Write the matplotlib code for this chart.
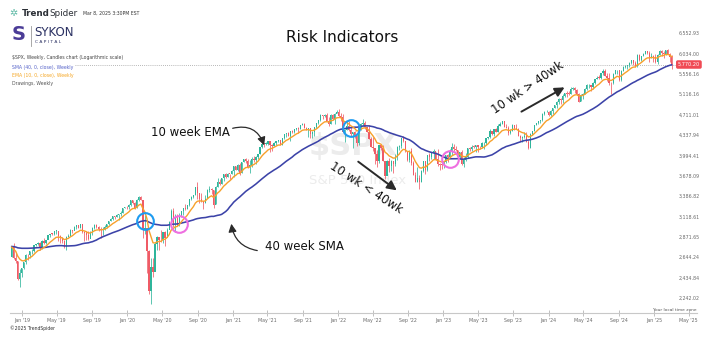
import pandas as pd
import matplotlib
matplotlib.use("Agg")
import matplotlib.pyplot as plt
import matplotlib.dates as mdates
from matplotlib.ticker import NullLocator

# weekly closes before the visible range, only used to warm up the averages (Feb-Nov 2018)
warmup_close = [
    2762.13, 2619.55, 2732.22, 2747.30, 2691.25, 2786.57, 2752.01, 2588.26, 2640.87, 2604.47,
    2656.30, 2670.14, 2669.91, 2663.42, 2727.72, 2712.97, 2721.33, 2734.62, 2779.03, 2779.66,
    2754.88, 2718.37, 2759.82, 2801.31, 2801.83, 2818.82, 2840.35, 2833.28, 2850.13, 2874.69,
    2901.52, 2871.68, 2904.98, 2929.67, 2913.98, 2885.57, 2767.13, 2767.78, 2658.69, 2723.06,
    2781.01, 2736.27, 2632.56,
]

# visible weekly candles, week of 26 Nov 2018 to week of 3 Mar 2025
first_open = 2649.97
week_close = [
    # 2018
    2760.17, 2633.08, 2599.95, 2416.62, 2485.74,
    # 2019
    2531.94, 2596.26, 2670.71, 2664.76, 2706.53, 2707.88, 2775.60, 2792.67, 2803.69, 2743.07,
    2822.48, 2800.71, 2834.40, 2892.74, 2907.41, 2905.03, 2939.88, 2945.64, 2881.40, 2859.53,
    2826.06, 2752.06, 2873.34, 2886.98, 2950.46, 2941.76, 2990.41, 3013.77, 2976.61, 3025.86,
    2932.05, 2918.65, 2888.68, 2847.11, 2926.46, 2978.71, 3007.39, 2992.07, 2961.79, 2952.01,
    2970.27, 2986.20, 3022.55, 3066.91, 3093.08, 3120.46, 3110.29, 3140.98, 3145.91, 3168.80,
    3221.22, 3240.02,
    # 2020
    3234.85, 3265.35, 3329.62, 3295.47, 3225.52, 3327.71, 3380.16, 3337.75, 2954.22, 2972.37,
    2711.02, 2304.92, 2541.47, 2488.65, 2789.82, 2874.56, 2836.74, 2830.71, 2929.80, 2863.70,
    2955.45, 3044.31, 3193.93, 3041.31, 3097.74, 3009.05, 3130.01, 3185.04, 3224.73, 3215.63,
    3271.12, 3351.28, 3372.85, 3397.16, 3508.01, 3426.96, 3340.97, 3319.47, 3298.46, 3348.44,
    3477.13, 3483.81, 3465.39, 3269.96, 3509.44, 3585.15, 3557.54, 3638.35, 3699.12, 3663.46,
    3709.41, 3703.06, 3756.07,
    # 2021
    3824.68, 3768.25, 3841.47, 3714.24, 3886.83, 3934.83, 3906.71, 3811.15, 3841.94, 3943.34,
    3913.10, 3974.54, 4019.87, 4128.80, 4185.47, 4180.17, 4181.17, 4232.60, 4173.85, 4155.86,
    4204.11, 4229.89, 4247.44, 4166.45, 4280.70, 4352.34, 4369.55, 4327.16, 4411.79, 4395.26,
    4436.52, 4468.00, 4441.67, 4509.37, 4535.43, 4458.58, 4432.99, 4455.48, 4357.04, 4391.34,
    4471.37, 4544.90, 4605.38, 4697.53, 4682.85, 4697.96, 4594.62, 4538.43, 4712.02, 4620.64,
    4725.79, 4766.18,
    # 2022
    4677.03, 4662.85, 4397.94, 4431.85, 4500.53, 4418.64, 4348.87, 4384.65, 4328.87, 4204.31,
    4463.12, 4543.06, 4545.86, 4488.28, 4392.59, 4271.78, 4131.93, 4123.34, 4023.89, 3901.36,
    4158.24, 4108.54, 3900.86, 3674.84, 3911.74, 3825.33, 3899.38, 3863.16, 3961.63, 4130.29,
    4145.19, 4280.15, 4228.48, 4057.66, 3924.26, 4067.36, 3873.33, 3693.23, 3585.62, 3639.66,
    3583.07, 3752.75, 3901.06, 3770.55, 3992.93, 3965.34, 4026.12, 4071.70, 3934.38, 3852.36,
    3844.82, 3839.50,
    # 2023
    3895.08, 3999.09, 3972.61, 4070.56, 4136.48, 4090.46, 4079.09, 3970.04, 4045.64, 3861.59,
    3916.64, 3970.99, 4109.31, 4105.02, 4137.64, 4133.52, 4169.48, 4136.25, 4124.08, 4191.98,
    4205.45, 4282.37, 4298.86, 4409.59, 4348.33, 4450.38, 4398.95, 4505.42, 4536.34, 4582.23,
    4478.03, 4464.05, 4369.71, 4405.71, 4515.77, 4457.49, 4450.32, 4320.06, 4288.05, 4308.50,
    4327.78, 4224.16, 4117.37, 4358.34, 4415.24, 4514.02, 4559.34, 4594.63, 4604.37, 4719.19,
    4754.63, 4769.83,
    # 2024
    4697.24, 4783.83, 4839.81, 4890.97, 4958.61, 5026.61, 5005.57, 5088.80, 5137.08, 5123.69,
    5117.09, 5234.18, 5254.35, 5204.34, 5123.41, 4967.23, 5099.96, 5127.79, 5222.68, 5303.27,
    5304.72, 5277.51, 5346.99, 5431.60, 5464.62, 5460.48, 5567.19, 5615.35, 5505.00, 5459.10,
    5346.56, 5344.16, 5554.25, 5634.61, 5648.40, 5408.42, 5626.02, 5702.55, 5738.17, 5751.07,
    5815.03, 5864.67, 5808.12, 5728.80, 5995.54, 5870.62, 5969.34, 6032.38, 6090.27, 6051.09,
    5930.85, 5970.84,
    # 2025
    5942.47, 5827.04, 5996.66, 6101.24, 6040.53, 6025.99, 6114.63, 6013.13, 5954.50, 5770.20,
]
week_high = [
    2760.88, 2800.18, 2685.44, 2601.13, 2520.27,
    2534, 2597, 2675, 2681, 2716, 2738, 2776, 2794, 2816, 2812,
    2831, 2860, 2836, 2893, 2910, 2918, 2940, 2954, 2931, 2892,
    2865, 2841, 2876, 2910, 2964, 2958, 2995, 3014, 3017, 3028,
    3029, 2944, 2943, 2939, 2940, 2985, 3021, 3022, 3002, 2993,
    2993, 3008, 3027, 3067, 3097, 3120, 3127, 3154, 3144, 3183,
    3226, 3247,
    3258, 3282, 3329, 3338, 3306, 3347, 3385, 3393, 3260, 3137,
    2883, 2718, 2637, 2632, 2818, 2880, 2869, 2954, 2932, 2945,
    2980, 3068, 3211, 3233, 3155, 3155, 3165, 3186, 3233, 3280,
    3273, 3352, 3388, 3399, 3510, 3588, 3425, 3429, 3320, 3397,
    3482, 3534, 3502, 3465, 3529, 3646, 3628, 3644, 3699, 3712,
    3726, 3711, 3760,
    3826, 3823, 3861, 3870, 3894, 3937, 3950, 3928, 3915, 3960,
    3983, 3978, 4020, 4129, 4192, 4194, 4218, 4238, 4237, 4187,
    4213, 4234, 4249, 4257, 4287, 4355, 4372, 4394, 4415, 4430,
    4441, 4468, 4481, 4513, 4546, 4549, 4486, 4466, 4458, 4412,
    4476, 4560, 4608, 4718, 4708, 4718, 4744, 4672, 4713, 4731,
    4740, 4808,
    4819, 4749, 4714, 4453, 4595, 4590, 4490, 4385, 4416, 4331,
    4465, 4546, 4637, 4593, 4471, 4513, 4308, 4307, 4081, 4090,
    4158, 4177, 4168, 3838, 3913, 3950, 3919, 3884, 4013, 4141,
    4167, 4280, 4325, 4203, 4062, 4076, 4119, 3908, 3736, 3807,
    3685, 3762, 3905, 3912, 4000, 4028, 4034, 4101, 4052, 4101,
    3876, 3878,
    3907, 4004, 4016, 4094, 4195, 4182, 4156, 4077, 4049, 4078,
    3964, 4039, 4110, 4133, 4164, 4170, 4170, 4167, 4143, 4213,
    4213, 4291, 4299, 4448, 4407, 4450, 4456, 4527, 4578, 4594,
    4585, 4528, 4490, 4448, 4542, 4515, 4527, 4467, 4338, 4324,
    4385, 4394, 4255, 4366, 4415, 4520, 4560, 4595, 4609, 4739,
    4779, 4793,
    4772, 4798, 4842, 4907, 4975, 5030, 5032, 5111, 5141, 5190,
    5180, 5262, 5265, 5264, 5222, 5150, 5114, 5139, 5239, 5325,
    5342, 5316, 5375, 5447, 5506, 5524, 5570, 5655, 5670, 5566,
    5566, 5372, 5564, 5643, 5652, 5651, 5636, 5734, 5767, 5765,
    5822, 5878, 5878, 5862, 6012, 6018, 5973, 6045, 6100, 6094,
    6085, 6050,
    5993, 6022, 6014, 6128, 6121, 6101, 6127, 6147, 6043, 5986,
]
week_low = [
    2649.97, 2621.53, 2583.23, 2408.55, 2346.58,
    2443, 2524, 2570, 2612, 2631, 2681, 2703, 2764, 2774, 2722,
    2732, 2795, 2785, 2849, 2873, 2895, 2898, 2900, 2825, 2801,
    2805, 2750, 2728, 2874, 2883, 2913, 2952, 2966, 2972, 2978,
    2914, 2822, 2837, 2834, 2853, 2892, 2963, 2980, 2946, 2855,
    2892, 2953, 2978, 3014, 3066, 3078, 3091, 3112, 3070, 3123,
    3166, 3222,
    3212, 3214, 3253, 3280, 3214, 3223, 3315, 3328, 2855, 2902,
    2478, 2280, 2192, 2446, 2506, 2725, 2727, 2816, 2798, 2766,
    2909, 2969, 3025, 2984, 2934, 3003, 2999, 3115, 3142, 3200,
    3209, 3260, 3333, 3361, 3403, 3349, 3293, 3313, 3210, 3298,
    3361, 3441, 3419, 3233, 3279, 3511, 3543, 3559, 3594, 3645,
    3659, 3636, 3699,
    3663, 3761, 3750, 3694, 3725, 3884, 3865, 3789, 3723, 3805,
    3885, 3853, 3937, 4018, 4118, 4124, 4170, 4168, 4056, 4061,
    4155, 4167, 4215, 4165, 4164, 4271, 4309, 4321, 4233, 4367,
    4368, 4423, 4367, 4445, 4512, 4456, 4428, 4306, 4279, 4279,
    4323, 4460, 4527, 4595, 4630, 4672, 4585, 4495, 4540, 4600,
    4531, 4733,
    4662, 4582, 4395, 4222, 4433, 4401, 4327, 4115, 4279, 4157,
    4161, 4424, 4506, 4450, 4382, 4269, 4124, 4062, 3859, 3811,
    3875, 4074, 3900, 3637, 3705, 3738, 3742, 3721, 3819, 3913,
    4079, 4112, 4218, 4057, 3907, 3887, 3838, 3693, 3584, 3590,
    3491, 3590, 3734, 3698, 3747, 3906, 3938, 3937, 3919, 3827,
    3764, 3783,
    3795, 3877, 3885, 3969, 3993, 4070, 4069, 3944, 3928, 3847,
    3809, 3900, 3956, 4069, 4073, 4113, 4049, 4049, 4099, 4109,
    4103, 4166, 4260, 4289, 4341, 4328, 4385, 4391, 4503, 4527,
    4474, 4457, 4335, 4356, 4414, 4430, 4448, 4317, 4238, 4216,
    4283, 4223, 4103, 4113, 4342, 4402, 4510, 4538, 4546, 4590,
    4708, 4752,
    4682, 4682, 4714, 4845, 4845, 4919, 4920, 4946, 5058, 5057,
    5104, 5118, 5203, 5146, 5107, 4953, 4969, 5011, 5128, 5211,
    5257, 5191, 5234, 5331, 5432, 5433, 5445, 5528, 5497, 5390,
    5305, 5120, 5327, 5550, 5561, 5403, 5402, 5615, 5698, 5674,
    5707, 5784, 5763, 5703, 5707, 5854, 5853, 5963, 6024, 6024,
    5832, 5929,
    5824, 5810, 5774, 5997, 5962, 5923, 6003, 6009, 5837, 5666,
]

price_ticks = [2242.02, 2434.84, 2644.24, 2871.65, 3118.61, 3386.82, 3678.09,
               3994.41, 4337.94, 4711.01, 5116.16, 5556.16, 6034.00, 6552.93]
cross_weeks = ["2020-03-02", "2020-06-29", "2022-02-14", "2023-01-23"]
cross_colors = ["#1e9bf0", "#ee6fe0", "#1e9bf0", "#ee6fe0"]
month_ticks = pd.date_range("2019-01-01", "2025-05-01", freq="4MS")

W, H = 710, 348


def fpx(x, y):
    """image pixel (from top-left) -> figure fraction"""
    return (x / W, 1 - y / H)


# week start dates and moving averages
weeks = pd.date_range("2018-11-26", periods=len(week_close), freq="W-MON")
xs = mdates.date2num(weeks)
full = pd.Series(warmup_close + week_close)
sma40 = full.rolling(40).mean().iloc[-len(week_close):].values
ema10 = full.ewm(span=10, adjust=False).mean().iloc[-len(week_close):].values
opens = [first_open] + week_close[:-1]

fig = plt.figure(figsize=(W / 100, H / 100), dpi=100)
ax = fig.add_axes([10 / W, 35 / H, 687 / W, 313 / H])

# candles
up_c, dn_c = "#2fb59b", "#ef5b66"
colors = [up_c if c >= o else dn_c for o, c in zip(opens, week_close)]
ax.vlines(xs, week_low, week_high, colors=colors, lw=0.55, zorder=2)
bottoms = [min(o, c) for o, c in zip(opens, week_close)]
heights = [max(abs(c - o), 0.003 * c) for o, c in zip(opens, week_close)]
ax.bar(xs, heights, bottom=bottoms, width=4.2, color=colors, lw=0, zorder=3)

# averages
ax.plot(xs, sma40, color="#3c43a8", lw=1.15, zorder=4)
ax.plot(xs, ema10, color="#f7a12b", lw=1.0, zorder=5)

# crossover circles
for wk, col in zip(cross_weeks, cross_colors):
    i = list(weeks).index(pd.Timestamp(wk))
    ax.plot(xs[i], sma40[i], marker="o", ms=12, mfc="none", mec=col, mew=1.5, zorder=6)

# last price line and tag
last = week_close[-1]
ax.axhline(last, xmin=(75 - 10) / 687, xmax=(676 - 10) / 687, color="#a0a0a0",
           ls=(0, (1, 1.5)), lw=0.6, zorder=1)
ax.text(0.972, last, f"{last:,.2f}", transform=ax.get_yaxis_transform(), ha="left",
        va="center", fontsize=3.6, color="white",
        bbox=dict(boxstyle="round,pad=0.35", fc="#f04b55", ec="none"), zorder=7)

# axes styling
ax.set_yscale("log")
ax.set_ylim(2110, 7492)
ax.set_xlim(mdates.date2num(pd.Timestamp("2018-11-20")), mdates.date2num(pd.Timestamp("2025-05-30")))
for s in ["top", "left", "right"]:
    ax.spines[s].set_visible(False)
ax.spines["bottom"].set_color("#c8c8c8")
ax.spines["bottom"].set_linewidth(0.8)

ax.yaxis.tick_right()
ax.set_yticks(price_ticks)
ax.set_yticklabels([f"{v:,.2f}" for v in price_ticks])
ax.yaxis.set_minor_locator(NullLocator())
ax.tick_params(axis="y", length=0, pad=-13, labelsize=3.4, labelcolor="#6a6a6a")

ax.set_xticks(mdates.date2num(month_ticks))
ax.set_xticklabels([f"{d:%b} '{d:%y}" for d in month_ticks])
ax.tick_params(axis="x", direction="inout", length=4, width=0.6, color="#b5b5b5",
               pad=1.5, labelsize=3.4, labelcolor="#6a6a6a")

# watermark
ax.text(*fpx(353, 146), "$SPX", transform=fig.transFigure, ha="center", va="center",
        fontsize=22, fontweight="bold", color="#ececec", zorder=0)
ax.text(*fpx(358, 181), "S&P 500 Index", transform=fig.transFigure, ha="center", va="center",
        fontsize=9.5, color="#ececec", zorder=0)

# header
fig.text(*fpx(9, 13), "\u2732", fontsize=7, color="#5bb8a4", va="center")
fig.text(*fpx(22, 13), "Trend", fontsize=6.3, fontweight="bold", color="#2b2f36", va="center")
fig.text(*fpx(49, 13), "Spider", fontsize=6.3, color="#2b2f36", va="center")
fig.text(*fpx(83, 13), "Mar 8, 2025 3:30PM EST", fontsize=3.3, color="#333333", va="center")
fig.text(*fpx(12, 35), "S", fontsize=14, fontweight="bold", color="#4b3c97", va="center")
fig.add_artist(plt.Line2D([31 / W, 31 / W], [1 - 26 / H, 1 - 46 / H], color="#9a9a9a", lw=0.6))
fig.text(*fpx(34, 33), "SYKON", fontsize=8.5, color="#2b3163", va="center")
fig.text(*fpx(35, 42), "C A P I T A L", fontsize=3.2, color="#2b3163", va="center")
fig.text(*fpx(12, 57), "$SPX, Weekly, Candles chart (Logarithmic scale)", fontsize=3.3,
         color="#444444", va="center")
fig.text(*fpx(12, 67), "SMA (40, 0, close), Weekly", fontsize=3.3, color="#5663c9", va="center")
fig.text(*fpx(12, 75), "EMA (10, 0, close), Weekly", fontsize=3.3, color="#f5a623", va="center")
fig.text(*fpx(12, 84), "Drawings, Weekly", fontsize=3.3, color="#555555", va="center")

fig.text(*fpx(342, 38), "Risk Indicators", fontsize=11, color="#111111", ha="center", va="center")

# hand drawn notes
fig.text(*fpx(190, 133), "10 week EMA", fontsize=8.5, color="#111111", ha="center", va="center")
fig.text(*fpx(304, 246), "40 week SMA", fontsize=8.5, color="#111111", ha="center", va="center")
fig.text(*fpx(366, 188), "10 wk < 40wk", fontsize=8.5, color="#111111", ha="center",
         va="center", rotation=-33)
fig.text(*fpx(528, 88), "10 wk > 40wk", fontsize=8.5, color="#111111", ha="center",
         va="center", rotation=34)

arrow_kw = dict(arrowstyle="-|>", color="#2a2a2a", lw=0.9, mutation_scale=12)
ax.annotate("", xy=fpx(265, 148), xytext=fpx(230, 129), xycoords="figure fraction",
            textcoords="figure fraction",
            arrowprops=dict(connectionstyle="arc3,rad=-0.5", **arrow_kw))
ax.annotate("", xy=fpx(231, 221), xytext=fpx(260, 251), xycoords="figure fraction",
            textcoords="figure fraction",
            arrowprops=dict(connectionstyle="arc3,rad=-0.4", **arrow_kw))
ax.annotate("", xy=fpx(399, 192), xytext=fpx(356, 160), xycoords="figure fraction",
            textcoords="figure fraction",
            arrowprops=dict(connectionstyle="arc3,rad=0", **dict(arrow_kw, lw=1.4, mutation_scale=14)))
ax.annotate("", xy=fpx(567, 86), xytext=fpx(519, 113), xycoords="figure fraction",
            textcoords="figure fraction",
            arrowprops=dict(connectionstyle="arc3,rad=0", **dict(arrow_kw, lw=1.4, mutation_scale=14)))

# footer
fig.text(*fpx(697, 310), "Your local time zone", fontsize=3.2, color="#555555", ha="right", va="center")
fig.text(*fpx(10, 328), "\u00a92025 TrendSpider", fontsize=3.3, color="#333333", va="center")

fig.savefig("out.png", dpi=100)
